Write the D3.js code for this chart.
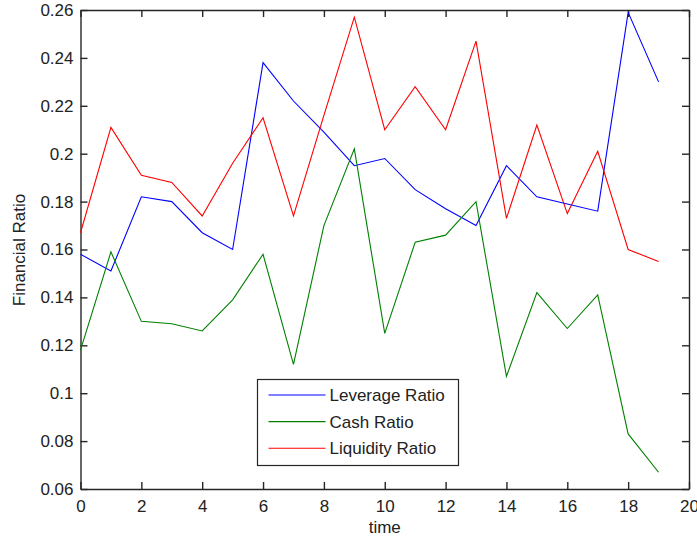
<!DOCTYPE html>
<html>
<head>
<meta charset="utf-8">
<script src="https://cdn.jsdelivr.net/npm/d3@7"></script>
<style>
  body { margin: 0; background: #fff; }
  svg { display: block; font-family: "Liberation Sans", Arial, sans-serif; }
  .domain { stroke: #262626; }
  .tick line { stroke: #262626; }
  .tick text { fill: #222; font-size: 17px; }
</style>
</head>
<body>
<div id="chart"></div>
<script>
// data
const time = [0, 1, 2, 3, 4, 5, 6, 7, 8, 9, 10, 11, 12, 13, 14, 15, 16, 17, 18, 19];
const leverageRatio = [0.158, 0.151, 0.182, 0.180, 0.167, 0.160, 0.238, 0.222, 0.209, 0.195, 0.198, 0.185, 0.177, 0.170, 0.195, 0.182, 0.179, 0.176, 0.259, 0.230];
const cashRatio = [0.118, 0.159, 0.130, 0.129, 0.126, 0.139, 0.158, 0.112, 0.170, 0.202, 0.125, 0.163, 0.166, 0.180, 0.107, 0.142, 0.127, 0.141, 0.083, 0.067];
const liquidityRatio = [0.167, 0.211, 0.191, 0.188, 0.174, 0.196, 0.215, 0.174, 0.216, 0.257, 0.210, 0.228, 0.210, 0.247, 0.173, 0.212, 0.175, 0.201, 0.160, 0.155];
const seriesNames = ["Leverage Ratio", "Cash Ratio", "Liquidity Ratio"];
const seriesColors = ["#0000ff", "#008000", "#ff0000"];
const xTicks = [0, 2, 4, 6, 8, 10, 12, 14, 16, 18, 20];
const yTicks = [0.06, 0.08, 0.1, 0.12, 0.14, 0.16, 0.18, 0.2, 0.22, 0.24, 0.26];

function drawChart() {
    const dimensions = {
        width: 697,
        height: 539,
        left: 80.5,
        right: 689,
        top: 10,
        bottom: 489
    };

    const svg = d3.select("#chart")
        .append("svg")
        .attr("width", dimensions.width)
        .attr("height", dimensions.height);

    const xScale = d3.scaleLinear()
        .domain([0, 20])
        .range([dimensions.left, dimensions.right]);

    const yScale = d3.scaleLinear()
        .domain([0.06, 0.26])
        .range([dimensions.bottom, dimensions.top]);

    const yFormat = d => String(+d.toFixed(2));

    // axes, ticks pointing inward like matlab
    svg.append("g")
        .attr("transform", `translate(0, ${dimensions.bottom})`)
        .call(d3.axisBottom(xScale).tickValues(xTicks).tickSizeInner(-7).tickSizeOuter(0).tickPadding(8))
        .call(g => g.selectAll(".tick text").attr("dy", "0.9em"));

    svg.append("g")
        .attr("transform", `translate(0, ${dimensions.top})`)
        .call(d3.axisTop(xScale).tickValues(xTicks).tickSizeInner(-7).tickSizeOuter(0).tickFormat(""));

    svg.append("g")
        .attr("transform", `translate(${dimensions.left}, 0)`)
        .call(d3.axisLeft(yScale).tickValues(yTicks).tickSizeInner(-7).tickSizeOuter(0).tickPadding(7).tickFormat(yFormat));

    svg.append("g")
        .attr("transform", `translate(${dimensions.right}, 0)`)
        .call(d3.axisRight(yScale).tickValues(yTicks).tickSizeInner(-7).tickSizeOuter(0).tickFormat(""));

    svg.selectAll(".domain").attr("stroke-width", 1.4);
    svg.selectAll(".tick line").attr("stroke-width", 1.4);

    const allSeries = [leverageRatio, cashRatio, liquidityRatio];

    const line = d3.line()
        .x((d, i) => xScale(time[i]))
        .y(d => yScale(d));

    svg.append("g")
        .selectAll("path")
        .data(allSeries)
        .join("path")
        .attr("fill", "none")
        .attr("stroke", (d, i) => seriesColors[i])
        .attr("stroke-width", 1.1)
        .attr("d", line);

    // axis labels
    svg.append("text")
        .attr("x", (dimensions.left + dimensions.right) / 2)
        .attr("y", 533)
        .attr("text-anchor", "middle")
        .attr("font-size", 17)
        .attr("fill", "#222")
        .text("time");

    svg.append("text")
        .attr("transform", "translate(25, 250) rotate(-90)")
        .attr("text-anchor", "middle")
        .attr("font-size", 17)
        .attr("fill", "#222")
        .text("Financial Ratio");

    // legend
    const legend = svg.append("g")
        .attr("transform", "translate(257.5, 379.5)");

    legend.append("rect")
        .attr("width", 201)
        .attr("height", 86)
        .attr("fill", "#fff")
        .attr("stroke", "#262626")
        .attr("stroke-width", 1.2);

    const rows = legend.selectAll(".row")
        .data(seriesNames)
        .join("g")
        .attr("class", "row")
        .attr("transform", (d, i) => `translate(0, ${15.5 + i * 26.6})`);

    rows.append("line")
        .attr("x1", 11)
        .attr("x2", 68)
        .attr("stroke", (d, i) => seriesColors[i])
        .attr("stroke-width", 1.1);

    rows.append("text")
        .attr("x", 72)
        .attr("dy", "0.35em")
        .attr("font-size", 17)
        .attr("fill", "#222")
        .text(d => d);
}

drawChart();
</script>
</body>
</html>
